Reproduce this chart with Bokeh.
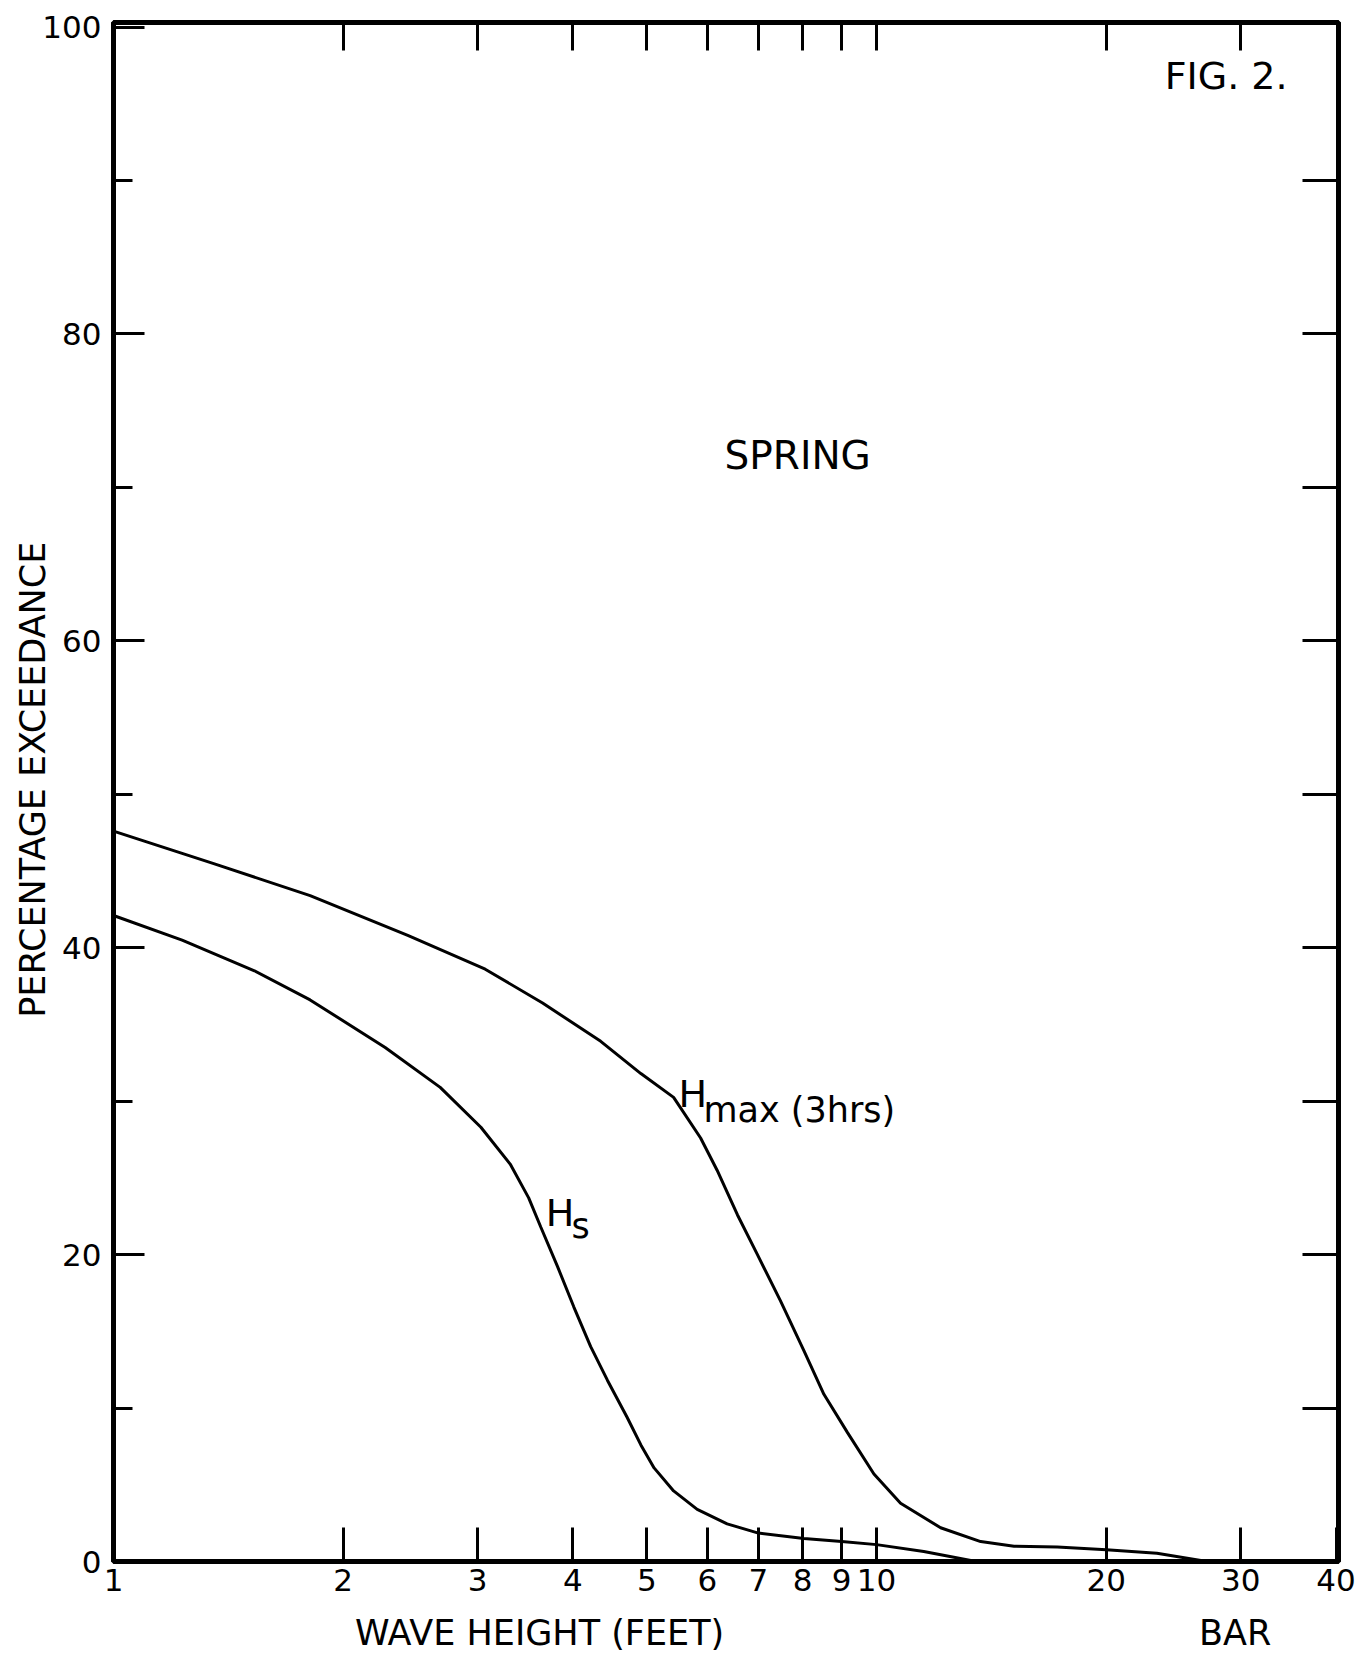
import math
from bokeh.plotting import figure
from bokeh.models import (Range1d, FixedTicker, LinearAxis, LogAxis, Label,
                          CustomJSTickFormatter, PrintfTickFormatter)
from bokeh.embed import file_html
from bokeh.resources import INLINE

# ---- data ----
x_ticks = [1, 2, 3, 4, 5, 6, 7, 8, 9, 10, 20, 30, 40]
top_ticks = [2, 3, 4, 5, 6, 7, 8, 9, 10, 20, 30]
y_ticks = [0, 20, 40, 60, 80, 100]
y_minor = [10, 30, 50, 70, 90]
right_ticks = [10, 20, 30, 40, 50, 60, 70, 80, 90]

hmax_height = [1.0, 1.35, 1.81, 2.43, 3.07, 3.65, 4.35, 4.91, 5.42, 5.88, 6.18, 6.57,
               6.98, 7.48, 8.03, 8.53, 9.16, 9.92, 10.75, 12.13, 13.69, 15.14, 17.25,
               20.0, 23.3, 27.1]
hmax_pct = [47.6, 45.5, 43.4, 40.8, 38.6, 36.4, 33.9, 31.8, 30.25, 27.6, 25.5, 22.6,
            20.0, 17.0, 13.75, 10.9, 8.4, 5.7, 3.8, 2.2, 1.3, 1.0, 0.95,
            0.76, 0.54, 0.0]

hs_height = [1.0, 1.23, 1.53, 1.81, 2.27, 2.68, 3.03, 3.31, 3.50, 3.63, 3.82, 4.01,
             4.22, 4.44, 4.71, 4.91, 5.11, 5.42, 5.82, 6.37, 7.0, 8.03, 9.0, 10.0,
             11.53, 13.5]
hs_pct = [42.1, 40.5, 38.5, 36.6, 33.5, 30.9, 28.3, 25.9, 23.7, 21.8, 19.2, 16.6,
          14.0, 11.8, 9.4, 7.6, 6.1, 4.6, 3.4, 2.45, 1.85, 1.5, 1.3, 1.1,
          0.65, 0.0]

x_title_pos = [3.617, 29.5]
x_titles = ["WAVE HEIGHT (FEET)", "BAR"]
y_title_pos = [50.95]
y_titles = ["PERCENTAGE EXCEEDANCE"]

FONT = "DejaVu Sans"

p = figure(width=1372, height=1663, x_axis_type="log",
           x_range=Range1d(1, 40.3), y_range=Range1d(0, 100.3),
           output_backend="svg", toolbar_location=None,
           min_border_left=113, min_border_right=34,
           min_border_top=22, min_border_bottom=102)
p.xgrid.visible = False
p.ygrid.visible = False
p.outline_line_color = "black"
p.outline_line_width = 5
p.background_fill_color = "white"
p.border_fill_color = "white"

# bottom axis
xa = p.xaxis[0]
xa.ticker = FixedTicker(ticks=x_ticks, minor_ticks=[])
xa.formatter = PrintfTickFormatter(format="%d")
xa.major_tick_in = 34
xa.major_tick_out = 0
xa.minor_tick_in = 0
xa.minor_tick_out = 0
xa.major_tick_line_width = 3
xa.axis_line_width = 5
xa.major_label_standoff = 7
xa.major_label_text_font = FONT
xa.major_label_text_font_size = "31px"
xa.major_label_text_color = "black"

# second "axis" below carrying the axis titles at their positions
xt = LogAxis(ticker=FixedTicker(ticks=x_title_pos, minor_ticks=[]),
             formatter=CustomJSTickFormatter(args=dict(names=x_titles),
                                             code="return names[index]"),
             major_tick_in=0, major_tick_out=0, minor_tick_in=0, minor_tick_out=0,
             axis_line_color=None, major_tick_line_color=None,
             major_label_standoff=19, major_label_text_font=FONT,
             major_label_text_font_size="35px", major_label_text_color="black")
p.add_layout(xt, "below")

# left axis
ya = p.yaxis[0]
ya.ticker = FixedTicker(ticks=y_ticks, minor_ticks=y_minor)
ya.major_tick_in = 31
ya.major_tick_out = 0
ya.minor_tick_in = 19
ya.minor_tick_out = 0
ya.major_tick_line_width = 3
ya.minor_tick_line_width = 3
ya.minor_tick_line_color = "black"
ya.axis_line_width = 5
ya.major_label_standoff = 12
ya.major_label_text_font = FONT
ya.major_label_text_font_size = "31px"
ya.major_label_text_color = "black"

# second "axis" on the left carrying the y title
yt = LinearAxis(ticker=FixedTicker(ticks=y_title_pos, minor_ticks=[]),
                formatter=CustomJSTickFormatter(args=dict(names=y_titles),
                                                code="return names[index]"),
                major_tick_in=0, major_tick_out=0, minor_tick_in=0, minor_tick_out=0,
                axis_line_color=None, major_tick_line_color=None,
                major_label_standoff=-14, major_label_orientation="parallel",
                major_label_text_font=FONT, major_label_text_font_size="35px",
                major_label_text_color="black")
p.add_layout(yt, "left")

blank = CustomJSTickFormatter(code="return ''")

top = LogAxis(ticker=FixedTicker(ticks=top_ticks, minor_ticks=[]), formatter=blank,
              major_tick_in=28, major_tick_out=0, minor_tick_in=0, minor_tick_out=0,
              major_tick_line_width=3, axis_line_width=5,
              major_label_standoff=0, major_label_text_font_size="1px")
p.add_layout(top, "above")

right = LinearAxis(ticker=FixedTicker(ticks=right_ticks, minor_ticks=[]), formatter=blank,
                   major_tick_in=36, major_tick_out=0, minor_tick_in=0, minor_tick_out=0,
                   major_tick_line_width=3, axis_line_width=5,
                   major_label_standoff=0, major_label_text_font_size="1px")
p.add_layout(right, "right")

# curves
p.line(hmax_height, hmax_pct, line_width=3, line_color="black")
p.line(hs_height, hs_pct, line_width=3, line_color="black")

def lab(x, y, text, size, align="left", baseline="alphabetic"):
    p.add_layout(Label(x=x, y=y, text=text, text_font=FONT, text_font_size=size,
                       text_align=align, text_baseline=baseline, text_color="black"))

lab(23.85, 96.8, "FIG. 2.", "38px", baseline="middle")
lab(6.32, 72.05, "SPRING", "39px", baseline="middle")
lab(5.50, 30.49, "H", "38px")
lab(5.93, 29.45, "max (3hrs)", "35px")
lab(3.684, 22.74, "H", "38px")
lab(3.984, 21.89, "s", "35px")

open("out.html", "w").write(file_html(p, INLINE))
